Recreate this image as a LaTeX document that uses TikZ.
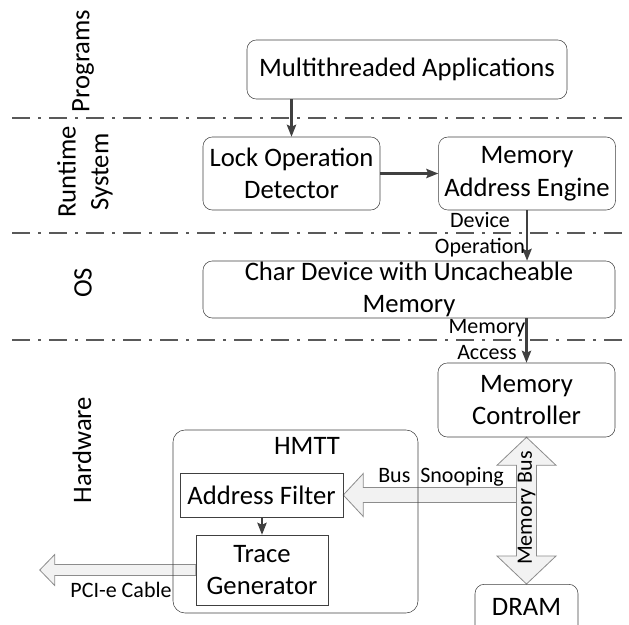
\documentclass[tikz,border=0pt]{standalone}
\usepackage{fontspec}
\setmainfont{Carlito}
\usetikzlibrary{positioning, arrows.meta, calc, backgrounds}
\definecolor{hmline}{HTML}{404040}
\definecolor{hmsep}{HTML}{595959}
\definecolor{hmfill}{HTML}{F2F2F2}
\definecolor{hmedge}{HTML}{8C8C8C}
\newcommand{\upx}{0.75pt}

\begin{document}
\begin{tikzpicture}[x=0.75pt, y=-0.75pt,
          b/.style={draw=hmline, rounded corners=7pt, font=\fontsize{20}{24.5}\selectfont, align=center, inner sep=0pt},
          sq/.style={draw=hmline, font=\fontsize{20}{24.5}\selectfont, align=center, inner sep=0pt},
          lbl/.style={font=\fontsize{16.5}{19.5}\selectfont, align=center, inner sep=0pt},
          layer/.style={font=\fontsize{20}{24.5}\selectfont, align=center, rotate=90, inner sep=0pt},
          flow/.style={->, line width=1.6pt, hmline, >={Stealth[length=9pt, width=7pt, inset=1.5pt]}},
          blk/.style={draw=hmedge, fill=hmfill, line width=0.6pt}]
        \useasboundingbox (0,0) rectangle (629,625);
        % layer separators
        \foreach \y in {118,233,340}
          \draw[hmsep, line width=1.5pt, dash pattern=on 13.5pt off 6pt on 2.25pt off 6pt] (12,\y) -- (629,\y);
        \node[layer] (prog) at (83,61) {Programs};
        \node[layer] (rts) at (85,172) {Runtime\\System};
        \node[layer] (os) at (83,283) {OS};
        \node[layer] (hw) at (82,450) {Hardware};
        % software stack
        \node[b, minimum width=320*\upx, minimum height=59*\upx] (app) at (407,69.5) {Multithreaded Applications};
        \node[b, minimum width=177*\upx, minimum height=73*\upx] (lock) at (291.5,173.5) {Lock Operation\\Detector};
        \node[b, minimum width=177*\upx, minimum height=73*\upx, right=43.5pt of lock] (mae) {Memory\\Address Engine};
        \node[b, minimum width=412*\upx, minimum height=57*\upx] (chardev) at (409,289.5) {Char Device with Uncacheable\\Memory};
        % hardware
        \node[b, minimum width=177*\upx, minimum height=74*\upx] (mc) at (526.5,400) {Memory\\Controller};
        \node[b, rounded corners=9pt, minimum width=245*\upx, minimum height=183*\upx] (hmtt) at (295.5,521.5) {};
        \node[font=\fontsize{20}{24.5}\selectfont, inner sep=0pt] (hmttlbl) at (307,446) {HMTT};
        \node[sq, minimum width=163*\upx, minimum height=44*\upx] (filter) at (261.5,495) {Address Filter};
        \node[sq, minimum width=132*\upx, minimum height=70*\upx] (trace) at (262,570) {Trace\\Generator};
        \node[b, anchor=north, minimum width=103*\upx, minimum height=56*\upx, text height=13pt, text depth=8.5pt] (dram) at (526.5,584) {DRAM};
        \coordinate (snoop) at ($(mc.south |- filter.east)+(-10,0)$);
        \coordinate (pcie) at ($(trace.west)+(-156,0)$);
        \draw[flow] (app.south -| lock.north) -- (lock.north);
        \draw[flow] (lock) -- (mae);
        \draw[flow] (mae.south) -- (mae.south |- chardev.north);
        \draw[flow] (chardev.south -| mc.north) -- (mc.north);
        \draw[flow] (filter.south -| trace.north) -- (trace.north);
        \node[lbl] (devop) at (480,235) {Device\\Operation};
        \node[lbl] (memacc) at (487,340) {Memory\\Access};
        % block arrows
        \begin{scope}[on background layer]
          \draw[blk] (mc.south) -- ++(29.5,28) -- ++(-19.5,0) -- ($(dram.north)+(10,-28)$) -- ++(19.5,0) -- (dram.north)
            -- ++(-29.5,-28) -- ++(19.5,0) -- ($(mc.south)+(-10,28)$) -- ++(-19.5,0) -- cycle;
          \draw[blk] (filter.east) -- ++(20,-21.5) -- ++(0,14) -- ($(snoop)+(0,-7.5)$) -- ($(snoop)+(0,7.5)$)
            -- ($(filter.east)+(20,7.5)$) -- ++(0,14) -- cycle;
          \draw[blk] (pcie) -- ++(15,-15.5) -- ++(0,10) -- ($(trace.west)+(0,-5.5)$) -- ($(trace.west)+(0,5.5)$)
            -- ($(pcie)+(15,5.5)$) -- ++(0,10) -- cycle;
        \end{scope}
        \node[lbl, rotate=90] (busl) at (526.5,508) {Memory Bus};
        \node[lbl] (snoopl) at (441,477) {Bus\ \ Snooping};
        \node[lbl] (pciel) at (121,590) {PCI-e Cable};
      \end{tikzpicture}
\end{document}
